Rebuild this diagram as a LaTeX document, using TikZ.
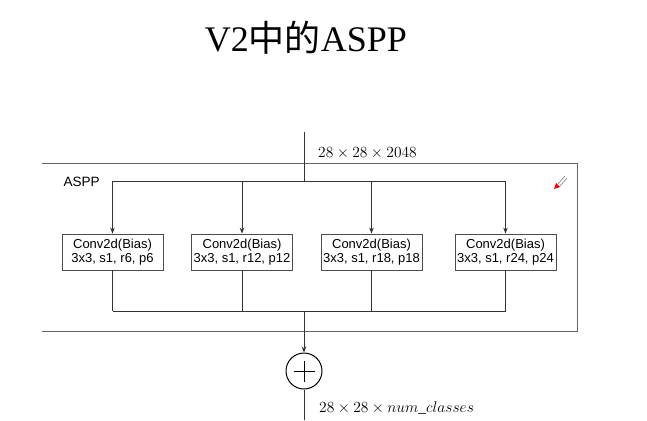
\documentclass[tikz,border=0pt]{standalone}
\usepackage{fontspec}
\usepackage{graphicx}
\setmainfont{Liberation Serif}
\setsansfont{Liberation Sans}
\newfontfamily\cjk{Noto Sans CJK SC}
\usetikzlibrary{arrows.meta}

\tikzset{
  conv/.style={draw=black!70, line width=0.8pt, minimum width=101pt, minimum height=36pt,
    inner sep=1pt, align=center, font=\sffamily\fontsize{13}{14.5}\selectfont},
  wire/.style={draw=black!80, line width=0.8pt},
  arr/.style={wire, -{Stealth[length=6pt,width=4.5pt]}},
  dimlabel/.style={anchor=base west, inner sep=0pt, font=\fontsize{14.4}{17}\selectfont}
}
\newcommand{\dimtext}[1]{\scalebox{1.076}{$#1$}}

\begin{document}
\begin{tikzpicture}[x=1pt,y=-1pt]
    \useasboundingbox (0,0) rectangle (647,420);

    \node[anchor=base, font=\fontsize{36}{40}\selectfont] (title) at (306,52) {V2{\cjk 中的}ASPP};

    % ASPP block, left edge cut off
    \draw[wire, draw=black!60] (42,163) -- (577,163) -- (577,331) -- (42,331);
    \node[anchor=base west, font=\sffamily\fontsize{13.5}{16}\selectfont] (aspp) at (60,186) {ASPP};

    \coordinate (in) at (304,132);
    \coordinate (split) at (304,181);
    \coordinate (merge) at (304,311);
    \coordinate (out) at (304,420);

    \node[conv] (c1) at (112.5,252) {Conv2d(Bias)\\3x3, s1, r6, p6};
    \node[conv] (c2) at (242,252) {Conv2d(Bias)\\3x3, s1, r12, p12};
    \node[conv] (c3) at (371.5,252) {Conv2d(Bias)\\3x3, s1, r18, p18};
    \node[conv] (c4) at (505.5,252) {Conv2d(Bias)\\3x3, s1, r24, p24};

    \node[circle, draw, line width=1pt, minimum size=36pt, inner sep=0pt] (sum) at (304,371) {};
    \draw[line width=1pt] ([xshift=-10.5pt]sum.center) -- ([xshift=10.5pt]sum.center);
    \draw[line width=1pt] ([yshift=-10.5pt]sum.center) -- ([yshift=10.5pt]sum.center);

    \draw[wire] (in) -- (split);
    \draw[wire] (c1 |- split) -- (c4 |- split);
    \foreach \b in {c1,c2,c3,c4} {
        \draw[arr] (\b |- split) -- (\b.north);
        \draw[wire] (\b.south) -- (\b |- merge);
    }
    \draw[wire] (c1 |- merge) -- (c4 |- merge);
    \draw[arr] (merge) -- (sum.north);
    \draw[wire] (sum.south) -- (out);

    \node[dimlabel] (din) at (318,157) {\dimtext{28 \times 28 \times 2048}};
    \node[dimlabel] (dout) at (319,412) {\dimtext{28 \times 28 \times num\_classes}};

    % pen cursor
    \draw[gray, line width=0.6pt] (558,184) -- (565,176);
    \draw[gray, line width=0.6pt] (560,186) -- (567,178);
    \fill[red] (554,189) -- (556,183) -- (560,187) -- cycle;
\end{tikzpicture}
\end{document}
